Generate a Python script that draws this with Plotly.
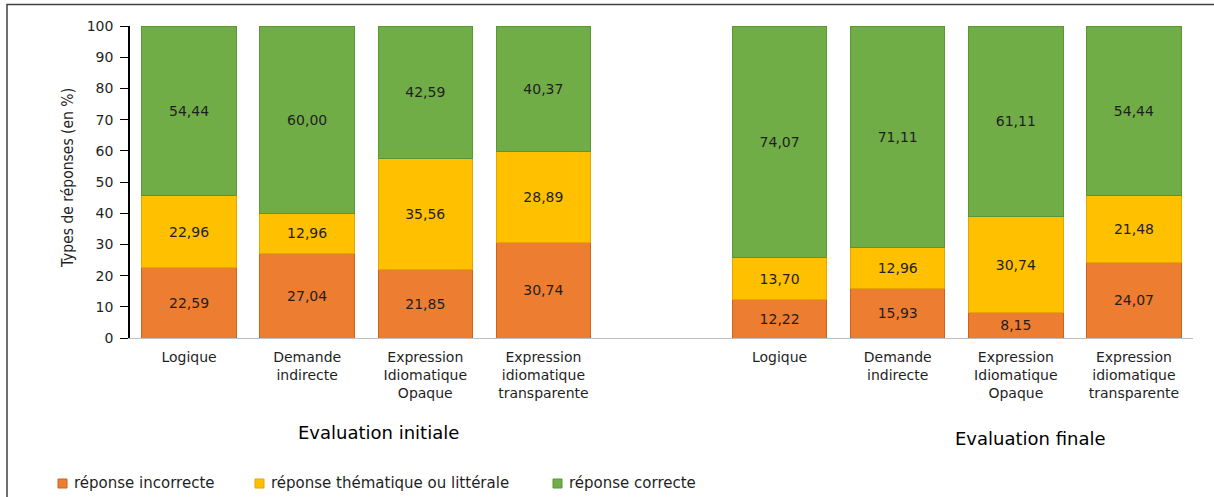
import plotly.graph_objects as go

# Response categories, split by evaluation phase
categories = ["Logique", "Demande<br>indirecte", "Expression<br>Idiomatique<br>Opaque",
              "Expression<br>idiomatique<br>transparente"]
phases = ["Evaluation initiale", "Evaluation finale"]

# Percentages per response type (initial then final)
incorrecte_initiale = [22.59, 27.04, 21.85, 30.74]
thematique_initiale = [22.96, 12.96, 35.56, 28.89]
correcte_initiale = [54.44, 60.00, 42.59, 40.37]

incorrecte_finale = [12.22, 15.93, 8.15, 24.07]
thematique_finale = [13.70, 12.96, 30.74, 21.48]
correcte_finale = [74.07, 71.11, 61.11, 54.44]

y_ticks = [0, 10, 20, 30, 40, 50, 60, 70, 80, 90, 100]

# x positions: four bars per phase with an empty slot between phases
x_pos = [0, 1, 2, 3, 5, 6, 7, 8]
tick_text = categories + categories

series = [
    ("réponse incorrecte", incorrecte_initiale + incorrecte_finale, "#ED7D31", "#C9641F"),
    ("réponse thématique ou littérale", thematique_initiale + thematique_finale, "#FFC000", "#E0A800"),
    ("réponse correcte", correcte_initiale + correcte_finale, "#70AD47", "#5A9634"),
]

FONT = "DejaVu Sans"
TXT = "#1f1f1f"

fig = go.Figure()
for name, vals, col, edge in series:
    fig.add_trace(go.Bar(
        x=x_pos, y=vals, name=name, width=0.8,
        marker=dict(color=col, line=dict(color=edge, width=1)),
        text=[f"{v:.2f}".replace(".", ",") for v in vals],
        textposition="inside", insidetextanchor="middle", textangle=0,
        textfont=dict(family=FONT, size=14, color=TXT),
        showlegend=False,
    ))

W, H = 1214, 497
ml, mr, mt, mb = 130, 21, 26, 159
pw, ph = W - ml - mr, H - mt - mb

def px_x(p):
    return (p - ml) / pw

def px_y(p):
    return (H - mb - p) / ph

fig.update_layout(
    width=W, height=H,
    margin=dict(l=ml, r=mr, t=mt, b=mb, autoexpand=False),
    paper_bgcolor="white", plot_bgcolor="white",
    barmode="stack",
    showlegend=False,
    xaxis=dict(
        range=[-0.5, 8.5], tickmode="array", tickvals=x_pos, ticktext=tick_text,
        showline=True, linecolor="#BFBFBF", linewidth=1, ticks="",
        tickfont=dict(family=FONT, size=14, color=TXT), showgrid=False,
        zeroline=False, automargin=False, ticklabelstandoff=6,
    ),
    yaxis=dict(
        range=[0, 100], tickmode="array", tickvals=y_ticks,
        showline=True, linecolor="black", linewidth=1.5,
        ticks="outside", ticklen=8, tickcolor="black", tickwidth=1,
        tickfont=dict(family=FONT, size=14, color=TXT),
        showgrid=False, zeroline=False, automargin=False, ticklabelstandoff=4,
    ),
)

# Y axis title
fig.add_annotation(
    text="Types de réponses (en %)", xref="paper", yref="paper",
    x=px_x(68), y=px_y(178), textangle=-90, showarrow=False,
    xanchor="center", yanchor="middle",
    font=dict(family="DejaVu Sans Condensed", size=15.5, color=TXT),
)

# Phase labels under each group
fig.add_annotation(text=phases[0], xref="paper", yref="paper",
                   x=px_x(378), y=px_y(432), showarrow=False,
                   xanchor="center", yanchor="middle",
                   font=dict(family=FONT, size=18, color="black"))
fig.add_annotation(text=phases[1], xref="paper", yref="paper",
                   x=px_x(1030), y=px_y(438), showarrow=False,
                   xanchor="center", yanchor="middle",
                   font=dict(family=FONT, size=18, color="black"))

# Legend row: colour swatch followed by series name
legend_x = [58, 255, 553]
for (name, vals, col, edge), lx in zip(series, legend_x):
    fig.add_shape(type="rect", xref="paper", yref="paper",
                  x0=px_x(lx), x1=px_x(lx + 9), y0=px_y(488), y1=px_y(479),
                  fillcolor=col, line=dict(color=edge, width=1))
    fig.add_annotation(text=name, xref="paper", yref="paper",
                       x=px_x(lx + 14), y=px_y(483), xanchor="left",
                       yanchor="middle", showarrow=False,
                       font=dict(family=FONT, size=15, color=TXT))

# Chart frame
fig.add_shape(type="rect", xref="paper", yref="paper",
              x0=px_x(7), x1=px_x(1230), y0=px_y(520), y1=px_y(4.5),
              line=dict(color="#404040", width=1.5), fillcolor="rgba(0,0,0,0)",
              layer="below")

fig.write_html("out.html")
